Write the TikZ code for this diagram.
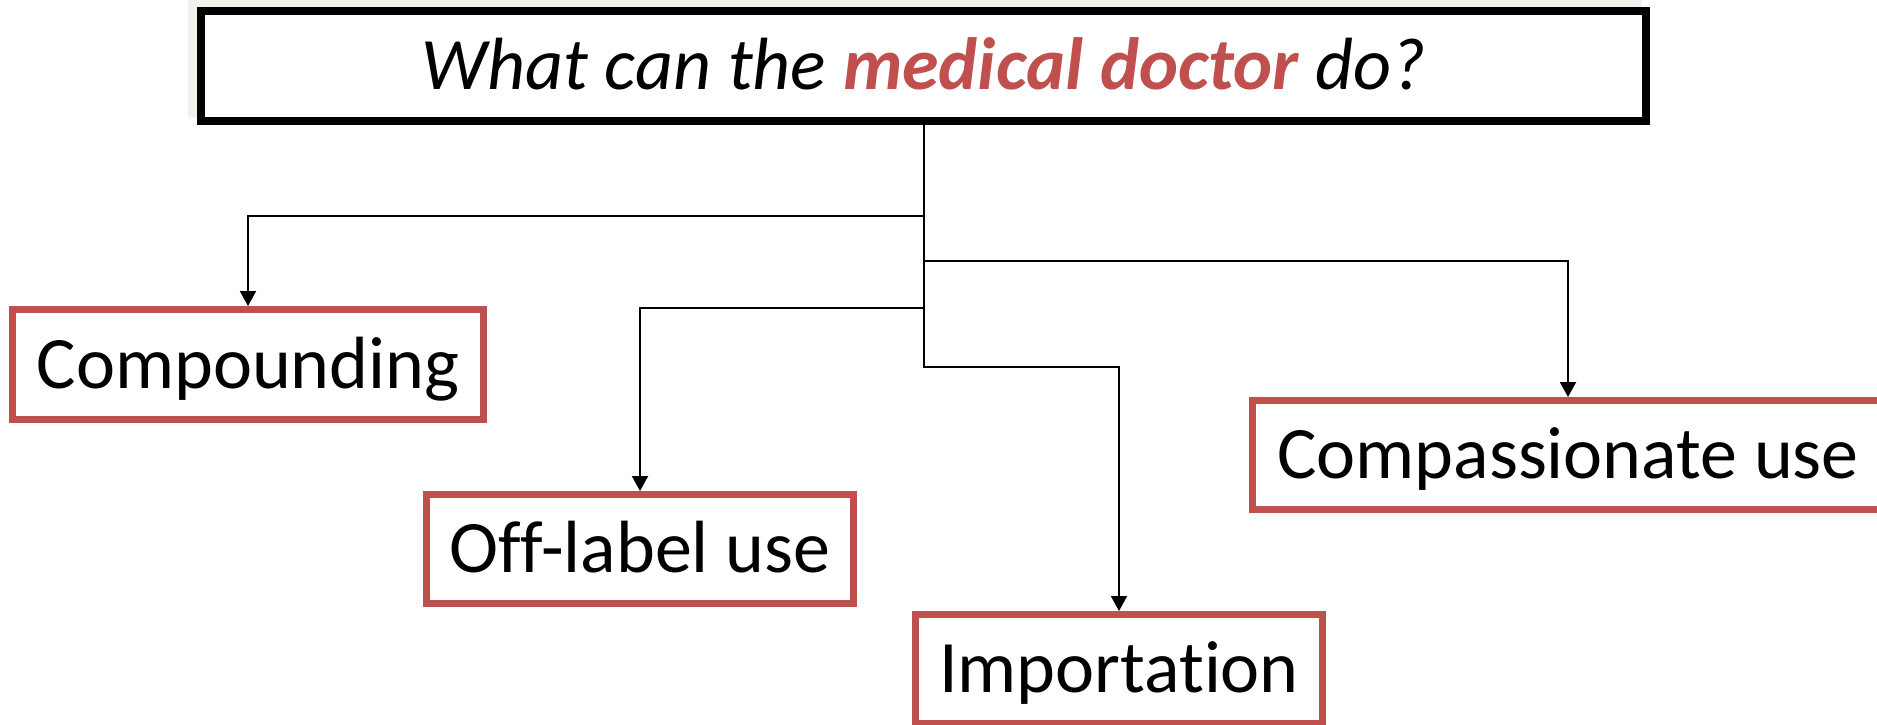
\documentclass[tikz,border=0pt]{standalone}
\usepackage{fontspec}
\setmainfont{Carlito}[Ligatures=NoCommon]
\usetikzlibrary{arrows.meta}
\definecolor{docRed}{HTML}{C0504D}
\definecolor{slideGray}{HTML}{F2F1EC}
\tikzset{
  arrowK/.style={-{Triangle[length=7.5pt, width=8pt]}, black, line width=1pt},
  boxQ/.style={rectangle, draw=black, line width=4pt, fill=white,
               font=\fontsize{37}{44}\selectfont\itshape, inner sep=0pt,
               text height=23.5pt, text depth=0pt,
               minimum width=722.5pt, minimum height=55pt},
  boxRed/.style={rectangle, draw=docRed, line width=3.5pt, fill=white,
                 font=\fontsize{37}{44}\selectfont, inner sep=0pt,
                 text height=23.5pt, text depth=0pt, minimum height=54.5pt},
}
\begin{document}
\begin{tikzpicture}[x=0.5pt, y=-0.5pt]
    \useasboundingbox (0,0) rectangle (1877,724);
    \fill[slideGray] (188,0) rectangle (1642,117);
    \node[boxQ] (q) at (923.5,66)
      {What can the \textbf{\textcolor{docRed}{medical doctor}} do?};
    \node[boxRed, minimum width=235.5pt, minimum height=55pt] (comp) at (248,364.5) {Compounding};
    \node[boxRed, minimum width=213.5pt] (offl) at (640,549) {Off-label use};
    \node[boxRed, minimum width=203.5pt] (imp) at (1119,669) {Importation};
    \node[boxRed, minimum width=315.5pt] (compa) at (1568,455) {Compassionate use};
    \draw[arrowK] (q.south) -- ++(0,91) -| (comp.north);
    \draw[arrowK] (q.south) -- ++(0,136) -| (compa.north);
    \draw[arrowK] (q.south) -- ++(0,183) -| (offl.north);
    \draw[arrowK] (q.south) -- ++(0,242) -| (imp.north);
  \end{tikzpicture}
\end{document}
